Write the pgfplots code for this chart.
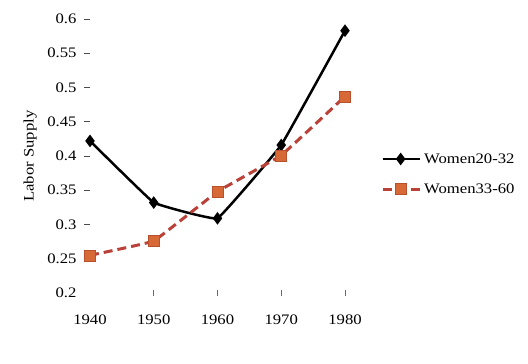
\documentclass[border=0pt]{standalone}
\usepackage{pgfplots}
\pgfplotsset{compat=1.18}
\usepackage{fontspec}
\setmainfont{Liberation Serif}[FakeStretch=1.15]
\definecolor{dline}{RGB}{185,65,55}
\definecolor{sqfill}{RGB}{215,105,55}
\definecolor{sqdraw}{RGB}{185,80,45}
\begin{document}
\begin{tikzpicture}
\path[use as bounding box] (-90pt,-71pt) rectangle (438pt,293pt);
\begin{axis}[
  scale only axis, width=255pt, height=274pt,
  xmin=1940, xmax=1980, ymin=0.2, ymax=0.6,
  axis line style={draw=none},
  font=\fontsize{14.5}{17}\selectfont,
  tick label style={font=\fontsize{14.5}{17}\selectfont},
  /pgf/number format/assume math mode=true,
  xtick={1950,1960,1970,1980},
  extra x ticks={1940}, extra x tick style={x tick style={draw=none}},
  xticklabel style={yshift=-15pt},
  ytick={0.25,0.3,...,0.61},
  extra y ticks={0.2}, extra y tick style={y tick style={draw=none}},
  yticklabel style={xshift=-4pt, /pgf/number format/fixed, /pgf/number format/precision=2},
  x tick label style={/pgf/number format/1000 sep={}},
  tick pos=left,
  y tick style={draw=black!70, line width=0.6pt},
  x tick style={draw=black!60, line width=0.5pt},
  xtick align=center, ytick align=outside,
  major tick length=6pt,
  ylabel={Labor Supply},
  ylabel style={at={(axis description cs:-0.235,0.5)}, anchor=center, font=\fontsize{14.5}{17}\selectfont},
  legend style={draw=none, fill=none, at={(axis description cs:1,0.434)}, anchor=west, xshift=33pt,
    row sep=15pt, font=\fontsize{14.5}{17}\selectfont, nodes={inner xsep=3pt}},
  legend cell align=left,
  legend image code/.code={\draw[#1, mark repeat=2, mark phase=2] plot coordinates {(0pt,0pt) (18pt,0pt) (37pt,0pt)};},
  clip=false,
]
\addplot[black, line width=2.5pt, smooth, tension=0.12, mark=diamond*, mark size=4.3pt, mark options={solid, fill=black}]
  coordinates {(1940,0.422) (1950,0.332) (1960,0.309) (1970,0.416) (1980,0.583)};
\addlegendentry{Women20-32}
\addplot[dline, line width=3pt, dash pattern=on 9pt off 5pt, smooth, tension=0.12, mark=square*, mark size=5.5pt, mark options={solid, fill=sqfill, draw=sqdraw, line width=0.6pt}]
  coordinates {(1940,0.255) (1950,0.276) (1960,0.348) (1970,0.401) (1980,0.487)};
\addlegendentry{Women33-60}
\end{axis}
\end{tikzpicture}
\end{document}
